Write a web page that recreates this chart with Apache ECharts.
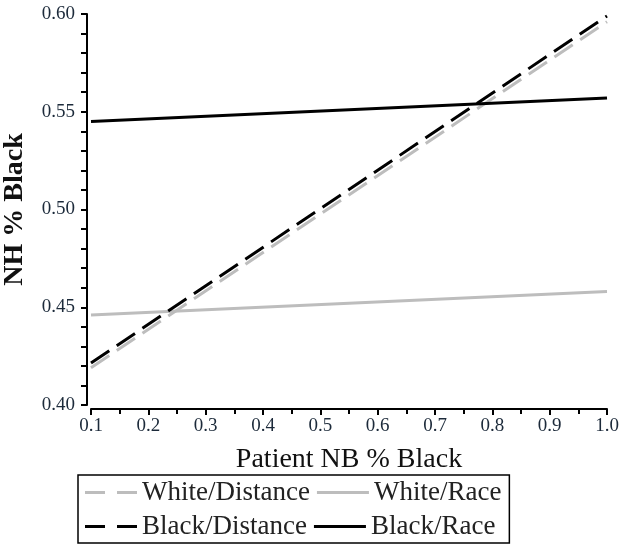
<!DOCTYPE html>
<html>
<head>
<meta charset="utf-8">
<script src="https://cdn.jsdelivr.net/npm/echarts@6/dist/echarts.min.js"></script>
<style>
  html, body { margin: 0; padding: 0; background: #fff; }
  #chart { width: 624px; height: 551px; }
</style>
</head>
<body>
<div id="chart"></div>
<script>
// x positions of the line endpoints
const xValues = [0.1, 1.0]
const whiteDistance = [0.419, 0.596]
const whiteRace = [0.446, 0.458]
const blackDistance = [0.4215, 0.599]
const blackRace = [0.545, 0.557]

const serif = '"Liberation Serif", "DejaVu Serif", serif'
const gray = '#bdbdbd'
const dashIcon = 'path://M0,0H20V3H0Z M32,0H52V3H32Z'
const solidIcon = 'path://M0,0H52V3H0Z'

function pairs (ys) {
  return xValues.map((x, i) => [x, ys[i]])
}

const chart = echarts.init(document.getElementById('chart'))

chart.setOption({
  animation: false,
  grid: {
    left: 91,
    right: 17,
    top: 14,
    bottom: 146,
    outerBoundsMode: 'none'
  },
  xAxis: {
    type: 'value',
    min: 0.1,
    max: 1.0,
    interval: 0.1,
    offset: 4,
    name: 'Patient NB % Black',
    nameLocation: 'middle',
    nameGap: 37,
    nameTextStyle: { fontFamily: serif, fontSize: 28, color: '#111' },
    axisLine: { lineStyle: { color: '#000', width: 2 } },
    axisTick: { length: 6, lineStyle: { color: '#000', width: 2 } },
    minorTick: { show: true, splitNumber: 2, length: 5, lineStyle: { color: '#000', width: 2 } },
    splitLine: { show: false },
    axisLabel: {
      fontFamily: serif,
      fontSize: 19,
      color: '#1c2a3a',
      margin: 8,
      formatter: v => v.toFixed(1)
    }
  },
  yAxis: {
    type: 'value',
    min: 0.40,
    max: 0.60,
    interval: 0.05,
    offset: 4,
    name: 'NH % Black',
    nameLocation: 'middle',
    nameGap: 58,
    nameTextStyle: { fontFamily: serif, fontSize: 28, fontWeight: 'bold', color: '#111' },
    axisLine: { lineStyle: { color: '#000', width: 2 } },
    axisTick: { length: 6, lineStyle: { color: '#000', width: 2 } },
    minorTick: { show: true, splitNumber: 5, length: 6, lineStyle: { color: '#000', width: 2 } },
    splitLine: { show: false },
    axisLabel: {
      fontFamily: serif,
      fontSize: 19,
      color: '#1c2a3a',
      margin: 12,
      formatter: v => v.toFixed(2)
    }
  },
  legend: {
    left: 78,
    top: 475,
    width: 450,
    padding: [4, 8, 3, 7],
    itemGap: 7,
    itemWidth: 52,
    itemHeight: 3,
    borderColor: '#000',
    borderWidth: 1.5,
    textStyle: { fontFamily: serif, fontSize: 27, lineHeight: 25, color: '#222' },
    data: [
      { name: 'White/Distance', icon: dashIcon },
      { name: 'White/Race', icon: solidIcon },
      { name: 'Black/Distance', icon: dashIcon },
      { name: 'Black/Race', icon: solidIcon }
    ]
  },
  series: [{
    name: 'White/Distance',
    type: 'line',
    symbol: 'none',
    data: pairs(whiteDistance),
    lineStyle: { color: gray, width: 3, type: [22, 9] },
    itemStyle: { color: gray }
  }, {
    name: 'White/Race',
    type: 'line',
    symbol: 'none',
    data: pairs(whiteRace),
    lineStyle: { color: gray, width: 3 },
    itemStyle: { color: gray }
  }, {
    name: 'Black/Distance',
    type: 'line',
    symbol: 'none',
    data: pairs(blackDistance),
    lineStyle: { color: '#000', width: 3, type: [22, 9] },
    itemStyle: { color: '#000' }
  }, {
    name: 'Black/Race',
    type: 'line',
    symbol: 'none',
    data: pairs(blackRace),
    lineStyle: { color: '#000', width: 3 },
    itemStyle: { color: '#000' }
  }]
})
</script>
</body>
</html>
